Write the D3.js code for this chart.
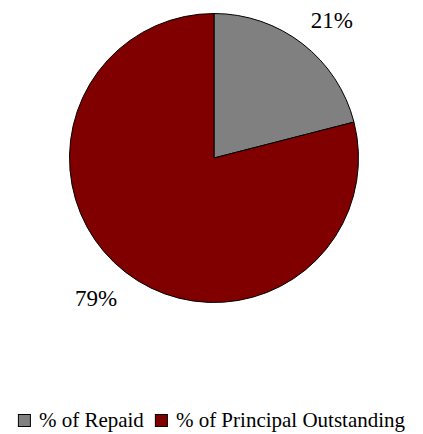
<!DOCTYPE html>
<html>
<head>
<meta charset="utf-8">
<script src="https://cdn.jsdelivr.net/npm/d3@7"></script>
<style>
  html, body { margin: 0; padding: 0; background: #fff; }
</style>
</head>
<body>
<svg id="viz"></svg>
<script>
// Loan repayment pie
const categories = ["% of Repaid", "% of Principal Outstanding"];
const values = [21, 79];
const colors = ["#808080", "#800000"];

const width = 423, height = 434;
const cx = 214, cy = 158, radius = 144.5;
const labelFont = 23, legendFont = 21;
const fontFamily = "'Liberation Serif', 'Times New Roman', 'DejaVu Serif', serif";

const svg = d3.select("#viz")
  .attr("width", width)
  .attr("height", height);

const data = categories.map((c, i) => ({ name: c, value: values[i], color: colors[i] }));

const pie = d3.pie().sort(null).value(d => d.value);
const arcs = pie(data);

const arc = d3.arc().innerRadius(0).outerRadius(radius);

const g = svg.append("g")
  .attr("transform", `translate(${cx}, ${cy})`);

g.selectAll(".slice")
  .data(arcs)
  .enter()
  .append("path")
  .attr("class", "slice")
  .attr("d", arc)
  .attr("fill", d => d.data.color)
  .attr("stroke", "#000")
  .attr("stroke-width", 1);

// Labels: corner of the text box nearest the pie sits on the mid-angle ray
const labelR = 158;
g.selectAll(".label")
  .data(arcs)
  .enter()
  .append("text")
  .attr("class", "label")
  .attr("font-family", fontFamily)
  .attr("font-size", labelFont)
  .attr("fill", "#000")
  .each(function(d) {
    const a = (d.startAngle + d.endAngle) / 2;
    const x = labelR * Math.sin(a);
    const y = -labelR * Math.cos(a);
    const up = Math.cos(a) > 0;
    d3.select(this)
      .attr("x", x)
      .attr("y", up ? y - labelFont * 0.22 : y + labelFont * 1.0)
      .attr("text-anchor", Math.sin(a) > 0 ? "start" : "end")
      .text(d.data.value + "%");
  });

// Legend
const legend = svg.append("g");
const box = 12, gapText = 8, gapItem = 11;
let xPos = 0;
data.forEach(d => {
  legend.append("rect")
    .attr("x", xPos + 0.5)
    .attr("y", 414.5)
    .attr("width", box)
    .attr("height", box)
    .attr("fill", d.color)
    .attr("stroke", "#000")
    .attr("stroke-width", 1);
  xPos += box + 1 + gapText;
  const t = legend.append("text")
    .attr("x", xPos)
    .attr("y", 427)
    .attr("font-family", fontFamily)
    .attr("font-size", legendFont)
    .attr("fill", "#000")
    .text(d.name);
  xPos += t.node().getComputedTextLength() + gapItem;
});
const legendWidth = xPos - gapItem;
legend.attr("transform", `translate(${(width - legendWidth) / 2}, 0)`);
</script>
</body>
</html>
